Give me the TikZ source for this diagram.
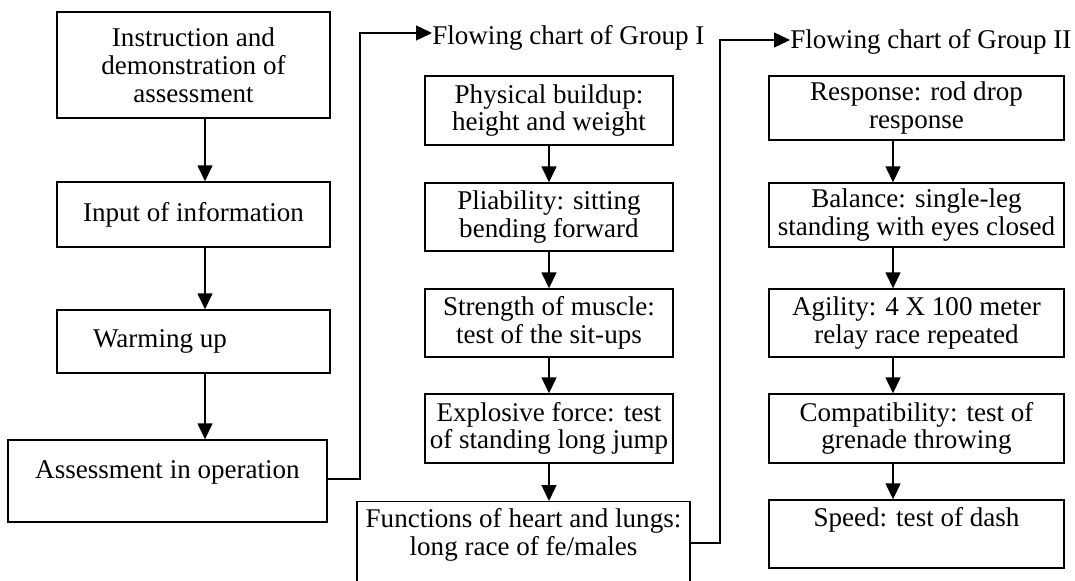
\documentclass[tikz,border=0pt]{standalone}
\usepackage{fontspec}
\setmainfont{Liberation Serif}
\usepackage{tikz}
\usetikzlibrary{calc}
\usetikzlibrary{positioning}
\usetikzlibrary{arrows.meta}
\tikzset{
  flowBox/.style={%
    rectangle, draw, line width=0.8pt, inner sep=0pt, align=center,
    font=\fontsize{15.4}{15.8}\selectfont,
  },
  flowArrow/.style={%
    line width=0.8pt, -{Triangle[length=3.2mm,width=3.0mm]},
  },
  flowTitle/.style={%
    anchor=west, inner sep=0pt, font=\fontsize{15.4}{15.8}\selectfont,
  }
}

\begin{document}
\begin{tikzpicture}[x=0.02cm,y=-0.02cm]
  \useasboundingbox (0,0) rectangle (1075,581);
  % left column
  \node[flowBox,minimum width=5.46cm,minimum height=2.12cm] (L1) at (193.5,65)
    {Instruction and\\demonstration of\\assessment};
  \node[flowBox,minimum width=5.46cm,minimum height=1.30cm] (L2) at (193.5,214.5)
    {Input of information};
  \node[flowBox,minimum width=5.46cm,minimum height=1.26cm] (L3) at (193.5,341.5)
    {Warming up\hspace*{1.34cm}};
  \node[flowBox,minimum width=6.38cm,minimum height=1.64cm,text depth=0.44cm] (L4) at (167.5,481)
    {Assessment in operation};
  \coordinate (lcol) at (205,0);
  \foreach \a/\b in {L1/L2,L2/L3,L3/L4}
  {
    \draw[flowArrow] (\a.south -| lcol) -- (\b.north -| lcol);
  }

  % group I
  \node[flowTitle] (T1) at (432,38) {Flowing chart of Group I};
  \node[flowBox,minimum width=4.96cm,minimum height=1.38cm] (M1) at (549,110.5)
    {Physical buildup:\\height and weight};
  \node[flowBox,minimum width=4.96cm,minimum height=1.36cm] (M2) at (549,217)
    {Pliability: sitting\\bending forward};
  \node[flowBox,minimum width=4.96cm,minimum height=1.36cm] (M3) at (549,323)
    {Strength of muscle:\\test of the sit-ups};
  \node[flowBox,minimum width=4.96cm,minimum height=1.38cm] (M4) at (549,428.5)
    {Explosive force: test\\of standing long jump};
  \node[flowBox,anchor=north,minimum width=6.66cm,minimum height=2.2cm,text depth=0.98cm] (M5) at (523.5,501)
    {Functions of heart and lungs:\\long race of fe/males};
  \foreach \a/\b in {M1/M2,M2/M3,M3/M4,M4/M5}
  {
    \draw[flowArrow] (\a.south) -- (\a.south |- \b.north);
  }

  % group II
  \node[flowTitle] (T2) at (790,42) {Flowing chart of Group II};
  \node[flowBox,minimum width=5.90cm,minimum height=1.28cm] (R1) at (916.5,108)
    {Response: rod drop\\response};
  \node[flowBox,minimum width=5.90cm,minimum height=1.28cm] (R2) at (916.5,215)
    {Balance: single-leg\\standing with eyes closed};
  \node[flowBox,minimum width=5.90cm,minimum height=1.36cm] (R3) at (916.5,323)
    {Agility: 4 X 100 meter\\relay race repeated};
  \node[flowBox,minimum width=5.90cm,minimum height=1.38cm] (R4) at (916.5,428.5)
    {Compatibility: test of\\grenade throwing};
  \node[flowBox,minimum width=5.90cm,minimum height=1.36cm,text depth=0.68cm] (R5) at (916.5,534)
    {Speed: test of dash};
  \coordinate (rcol) at (893,0);
  \foreach \a/\b in {R1/R2,R2/R3,R3/R4,R4/R5}
  {
    \draw[flowArrow] (\a.south -| rcol) -- (\b.north -| rcol);
  }

  % links between the charts
  \coordinate (c1) at (360,33);
  \coordinate (c2a) at (720,543);
  \coordinate (c2) at (720,40);
  \draw[flowArrow] (L4.east |- 0,479) -| (c1) -- (c1 -| T1.west);
  \draw[flowArrow] (M5.east |- c2a) -- (c2a) -- (c2) -- (c2 -| T2.west);
\end{tikzpicture}
\end{document}
